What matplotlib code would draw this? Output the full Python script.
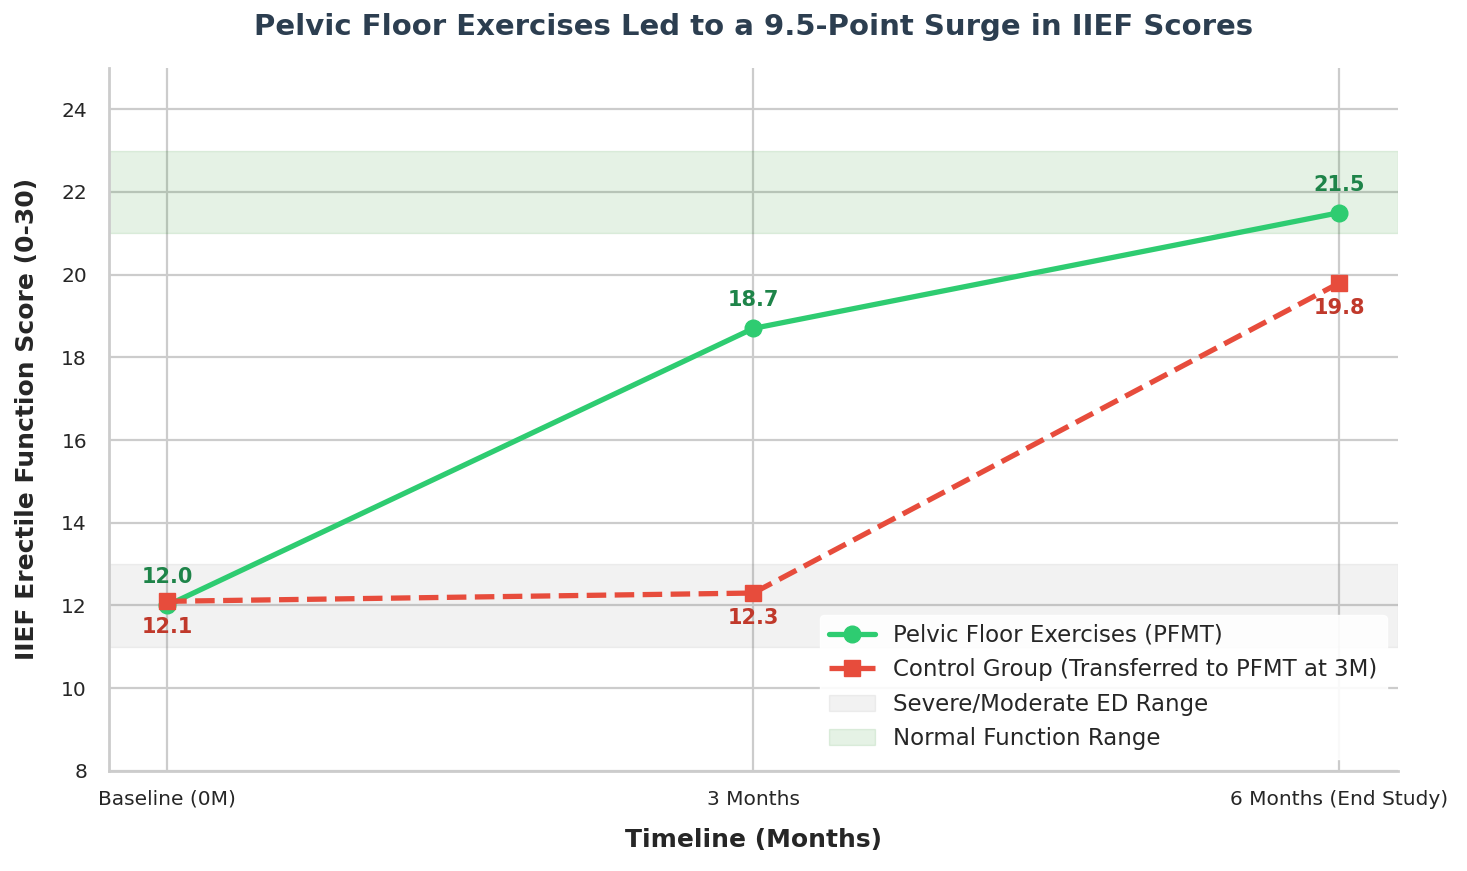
import matplotlib
matplotlib.use('Agg')
import matplotlib.pyplot as plt
import seaborn as sns

sns.set_style('whitegrid')
plt.rcParams['font.family'] = ['DejaVu Sans']

# data
timepoints = ['Baseline (0M)', '3 Months', '6 Months (End Study)']
pfmt = [12.0, 18.7, 21.5]
control = [12.1, 12.3, 19.8]

green = '#2ecc71'
green_dark = '#1e8449'
red = '#e74c3c'
red_dark = '#c0392b'

fig, ax = plt.subplots(figsize=(14.67, 8.71), dpi=100)
x = range(len(timepoints))

# reference bands
ax.axhspan(11, 13, color='gray', alpha=0.1, label='Severe/Moderate ED Range')
ax.axhspan(21, 23, color='green', alpha=0.1, label='Normal Function Range')

ax.plot(x, pfmt, color=green, lw=3.8, marker='o', markersize=12,
        label='Pelvic Floor Exercises (PFMT)', zorder=3)
ax.plot(x, control, color=red, lw=3.8, ls='--', marker='s', markersize=12,
        label='Control Group (Transferred to PFMT at 3M)', zorder=3)

for i in x:
    ax.annotate(f'{pfmt[i]:.1f}', (i, pfmt[i]), xytext=(0, 13), textcoords='offset points',
                ha='center', va='bottom', fontsize=15, fontweight='bold', color=green_dark)
    ax.annotate(f'{control[i]:.1f}', (i, control[i]), xytext=(0, -11), textcoords='offset points',
                ha='center', va='top', fontsize=15, fontweight='bold', color=red_dark)

ax.set_xlim(-0.1, 2.1)
ax.set_ylim(8, 25)
ax.set_xticks(list(x))
ax.set_xticklabels(timepoints, fontsize=14.5)
ax.tick_params(axis='x', pad=10)
ax.tick_params(axis='y', labelsize=14.5, pad=12)
ax.set_yticks(range(8, 25, 2))
ax.grid(True, color='#cccccc', lw=1.6)

ax.set_title('Pelvic Floor Exercises Led to a 9.5-Point Surge in IIEF Scores',
             fontsize=21, fontweight='bold', color='#2c3e50', pad=24)
ax.set_xlabel('Timeline (Months)', fontsize=18, fontweight='bold', labelpad=14)
ax.set_ylabel('IIEF Erectile Function Score (0-30)', fontsize=18, fontweight='bold', labelpad=16)

handles, labels = ax.get_legend_handles_labels()
order = [2, 3, 0, 1]
ax.legend([handles[k] for k in order], [labels[k] for k in order],
          loc='lower right', fontsize=16.5, frameon=True, framealpha=0.9, edgecolor='white',
          labelspacing=0.5)

sns.despine()
for s in ['left', 'bottom']:
    ax.spines[s].set_color('#cccccc')
    ax.spines[s].set_linewidth(2)

fig.subplots_adjust(left=0.074, right=0.953, top=0.922, bottom=0.115)
fig.savefig('out.png', dpi=100)
